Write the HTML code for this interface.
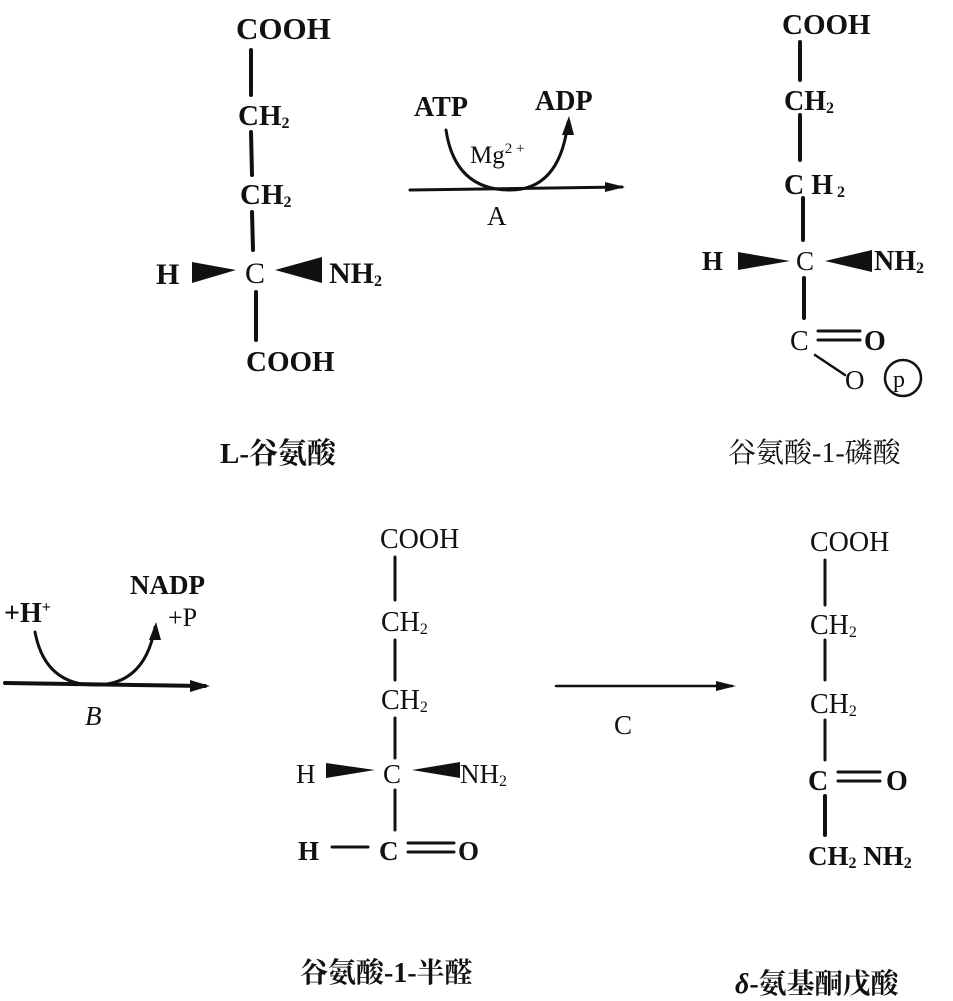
<!DOCTYPE html>
<html><head><meta charset="utf-8">
<style>
html,body{margin:0;padding:0;background:#fff;}
svg{display:block;}
text{font-family:"Liberation Serif","Noto Serif CJK SC",serif;fill:#111;}
.b{font-weight:bold;}
.cjk{font-family:"Liberation Serif","Noto Serif CJK SC","Noto Sans CJK SC",serif;font-weight:bold;}
</style></head>
<body>
<svg width="953" height="1001" viewBox="0 0 953 1001" xmlns="http://www.w3.org/2000/svg">
<g stroke="#111" fill="none" stroke-linecap="round">
<line x1="251" y1="50" x2="251" y2="95" stroke-width="4"/>
<line x1="251" y1="132" x2="252" y2="175" stroke-width="4"/>
<line x1="252" y1="212" x2="253" y2="250" stroke-width="4"/>
<line x1="256" y1="292" x2="256" y2="340" stroke-width="4"/>
<polygon points="192,262 192,283 236,270" fill="#111" stroke="none"/>
<polygon points="275,270 322,257 322,283" fill="#111" stroke="none"/>
<line x1="410" y1="190" x2="622" y2="187" stroke-width="3"/>
<polygon points="625,187 605,182 605,192" fill="#111" stroke="none"/>
<path d="M446,130 Q455,190 510,190 Q560,190 568,122" stroke-width="3"/>
<polygon points="569,116 562,135 574,135" fill="#111" stroke="none"/>
<line x1="800" y1="42" x2="800" y2="80" stroke-width="4"/>
<line x1="800" y1="115" x2="800" y2="160" stroke-width="4"/>
<line x1="803" y1="198" x2="803" y2="240" stroke-width="4"/>
<line x1="804" y1="278" x2="804" y2="318" stroke-width="4"/>
<polygon points="738,252 738,270 790,261" fill="#111" stroke="none"/>
<polygon points="825,261 872,250 872,272" fill="#111" stroke="none"/>
<line x1="818" y1="331" x2="860" y2="331" stroke-width="3"/>
<line x1="818" y1="340" x2="860" y2="340" stroke-width="3"/>
<line x1="815" y1="355" x2="845" y2="375" stroke-width="2.5"/>
<circle cx="903" cy="378" r="18" stroke-width="2.5"/>
<line x1="5" y1="683" x2="205" y2="686" stroke-width="4"/>
<polygon points="210,686 190,680 190,692" fill="#111" stroke="none"/>
<path d="M35,632 Q45,685 95,685 Q145,685 155,627" stroke-width="3"/>
<polygon points="156,622 149,640 161,640" fill="#111" stroke="none"/>
<line x1="395" y1="557" x2="395" y2="600" stroke-width="3"/>
<line x1="395" y1="640" x2="395" y2="680" stroke-width="3"/>
<line x1="395" y1="718" x2="395" y2="758" stroke-width="3"/>
<line x1="395" y1="790" x2="395" y2="830" stroke-width="3"/>
<polygon points="326,763 326,778 375,770" fill="#111" stroke="none"/>
<polygon points="412,770 460,762 460,778" fill="#111" stroke="none"/>
<line x1="332" y1="847" x2="368" y2="847" stroke-width="3"/>
<line x1="408" y1="843" x2="454" y2="843" stroke-width="3"/>
<line x1="408" y1="852" x2="454" y2="852" stroke-width="3"/>
<line x1="556" y1="686" x2="732" y2="686" stroke-width="2.5"/>
<polygon points="736,686 716,681 716,691" fill="#111" stroke="none"/>
<line x1="825" y1="560" x2="825" y2="605" stroke-width="3"/>
<line x1="825" y1="640" x2="825" y2="680" stroke-width="3"/>
<line x1="825" y1="720" x2="825" y2="760" stroke-width="3"/>
<line x1="825" y1="796" x2="825" y2="835" stroke-width="4"/>
<line x1="838" y1="772" x2="880" y2="772" stroke-width="3"/>
<line x1="838" y1="781" x2="880" y2="781" stroke-width="3"/>
</g>

<text class="b" x="236" y="39" font-size="31">COOH</text>
<text class="b" x="238" y="125" font-size="29">CH<tspan font-size="16" dy="3">2</tspan></text>
<text class="b" x="240" y="204" font-size="29">CH<tspan font-size="16" dy="3">2</tspan></text>
<text class="b" x="156" y="284" font-size="30">H</text>
<text x="245" y="283" font-size="30">C</text>
<text class="b" x="329" y="283" font-size="30">NH<tspan font-size="16" dy="3">2</tspan></text>
<text class="b" x="246" y="371" font-size="29">COOH</text>
<text class="cjk" x="220" y="463" font-size="29">L-谷氨酸</text>

<text class="b" x="414" y="116" font-size="28">ATP</text>
<text class="b" x="535" y="110" font-size="28">ADP</text>
<text x="470" y="163" font-size="25">Mg<tspan font-size="15" dy="-10">2 +</tspan></text>
<text x="487" y="225" font-size="27">A</text>

<text class="b" x="782" y="34" font-size="29">COOH</text>
<text class="b" x="784" y="110" font-size="28">CH<tspan font-size="16" dy="3">2</tspan></text>
<text class="b" x="784" y="194" font-size="28">C H<tspan font-size="16" dy="3"> 2</tspan></text>
<text class="b" x="702" y="270" font-size="27">H</text>
<text x="796" y="270" font-size="27">C</text>
<text class="b" x="874" y="270" font-size="28">NH<tspan font-size="16" dy="3">2</tspan></text>
<text x="790" y="350" font-size="28">C</text>
<text class="b" x="864" y="350" font-size="28">O</text>
<text x="845" y="389" font-size="27">O</text>
<text x="893" y="387" font-size="24">p</text>
<text x="728" y="462" font-size="28" style="font-family:'Liberation Serif','Noto Serif CJK SC',serif">谷氨酸-1-磷酸</text>

<text class="b" x="4" y="622" font-size="28">+H<tspan font-size="16" dy="-10">+</tspan></text>
<text class="b" x="130" y="594" font-size="27">NADP</text>
<text x="168" y="626" font-size="26">+P</text>
<text x="85" y="725" font-size="27" font-style="italic">B</text>

<text x="380" y="548" font-size="28">COOH</text>
<text x="381" y="631" font-size="28">CH<tspan font-size="16" dy="3">2</tspan></text>
<text x="381" y="709" font-size="28">CH<tspan font-size="16" dy="3">2</tspan></text>
<text x="296" y="783" font-size="27">H</text>
<text x="383" y="783" font-size="27">C</text>
<text x="460" y="783" font-size="27">NH<tspan font-size="16" dy="3">2</tspan></text>
<text class="b" x="298" y="860" font-size="27">H</text>
<text class="b" x="379" y="860" font-size="27">C</text>
<text class="b" x="458" y="860" font-size="27">O</text>
<text class="cjk" x="300" y="982" font-size="28">谷氨酸-1-半醛</text>

<text x="614" y="734" font-size="27">C</text>

<text x="810" y="551" font-size="28">COOH</text>
<text x="810" y="634" font-size="28">CH<tspan font-size="16" dy="3">2</tspan></text>
<text x="810" y="713" font-size="28">CH<tspan font-size="16" dy="3">2</tspan></text>
<text class="b" x="808" y="790" font-size="28">C</text>
<text class="b" x="886" y="790" font-size="28">O</text>
<text class="b" x="808" y="865" font-size="27">CH<tspan font-size="16" dy="3">2</tspan><tspan dy="-3"> NH</tspan><tspan font-size="16" dy="3">2</tspan></text>
<text class="cjk" x="735" y="993" font-size="28"><tspan font-style="italic">δ</tspan>-氨基酮戊酸</text>
</svg>
</body></html>
